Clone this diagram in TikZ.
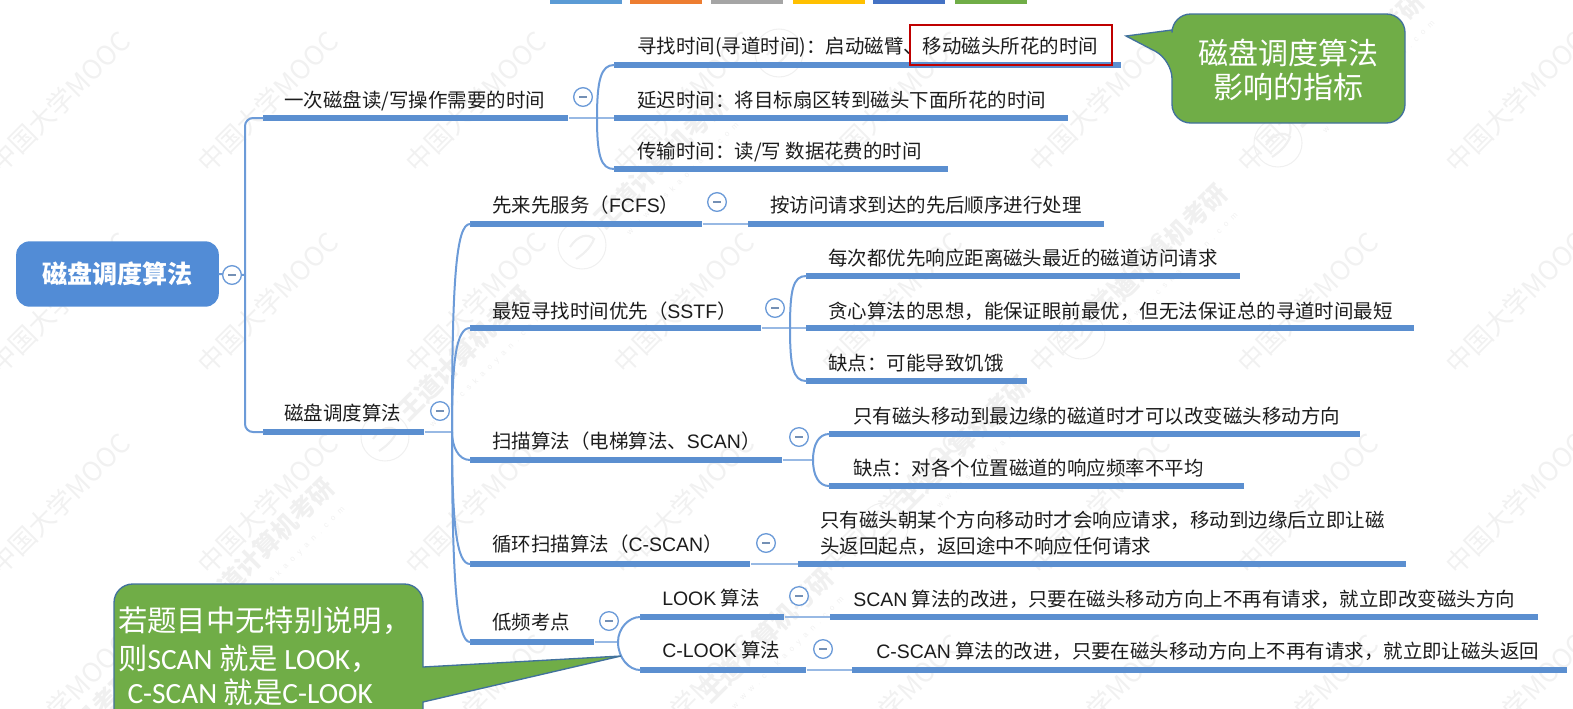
\documentclass[tikz,border=0pt]{standalone}
\usepackage{fontspec}
\setmainfont{Noto Sans CJK SC}
\newfontfamily\latinc{Carlito}
\newfontfamily\latinh{Liberation Sans}
\newfontfamily\wmlatin[LetterSpace=70]{Liberation Sans}
\definecolor{barblue}{HTML}{5B8FD0}
\definecolor{linkblue}{HTML}{6C9BD8}
\definecolor{rootblue}{HTML}{528CD6}
\definecolor{callgreen}{HTML}{70AD47}
\definecolor{callline}{HTML}{41719C}
\definecolor{txt}{HTML}{1C1C1C}
\definecolor{wm}{HTML}{F1F1F1}
\definecolor{wmb}{HTML}{F0F0F0}
\tikzset{
  x=0.75pt,y=-0.75pt,
  barbox/.style={fill=barblue,draw=none,inner sep=0pt,minimum height=4pt,rectangle},
  lab/.style={anchor=west,inner sep=0pt,yshift=-0.7pt,text=txt,font=\fontsize{14.6}{18}\selectfont},
  link/.style={draw=linkblue,line width=1.5pt,line cap=round},
  thin link/.style={draw=linkblue!70,line width=1pt},
  fold/.style={circle,draw=linkblue,line width=1pt,fill=white,minimum size=14pt,inner sep=0pt,
    path picture={\draw[linkblue!60!gray,line width=0.8pt] ([xshift=-3pt]path picture bounding box.center)--([xshift=3pt]path picture bounding box.center);}},
  callout/.style={fill=callgreen,draw=callline,line width=1pt},
  calltext/.style={text=white,inner sep=0pt,font=\fontsize{22.5}{25.5}\selectfont},
  wmtext/.style={text=wm,rotate=45,inner sep=0pt,font=\fontsize{20}{22}\selectfont},
  wmbold/.style={text=wmb,rotate=45,inner sep=0pt,font=\fontsize{19}{21}\selectfont\bfseries},
  wmurl/.style={text=wmb,rotate=45,inner sep=0pt,font=\fontsize{6}{7}\wmlatin}
}
% \barnode{name}{x0}{x1}{y}
\newcommand{\barnode}[4]{\node[barbox,minimum width={(#3-#2)*0.75pt},anchor=west] (#1) at (#2,#4) {};}
\newcommand{\la}[1]{{\latinh #1}}
\begin{document}
\begin{tikzpicture}
\useasboundingbox (0,0) rectangle (1573,708);
\clip (0,0) rectangle (1573,708);
% watermarks
\foreach \x in {60,268,476,684,892,1100,1308,1516}{
  \foreach \y in {102,303,504,705}{
    \node[wmtext,name=w\x\y] at (\x,\y) {中国大学MOOC};
  }
}
\foreach \lx/\ly in {188/629,385/437,582/245,779/53,884/527,1081/335,1278/143,1475/-49}{
  \node[wmbold,name=wb\lx] at (\lx-118,\ly+108) {王道计算机考研};
  \node[wmurl,name=wu\lx] at (\lx-96,\ly+126) {www.cskaoyan.com};
  \draw[wmb,line width=0.8pt] (\lx,\ly) circle (24);
  \draw[wmb,line width=1.6pt] (\lx-12,\ly+2) .. controls (\lx-4,\ly-10) and (\lx+6,\ly-12) .. (\lx+12,\ly-6)
     .. controls (\lx+8,\ly+4) and (\lx,\ly+10) .. (\lx-6,\ly+14);
}
% palette strip
\foreach \a/\c in {550/5B9BD5,630/ED7D31,711/A5A5A5,793/FFC000,873/4472C4,955/70AD47}{
  \definecolor{tmpc}{HTML}{\c}
  \fill[tmpc] (\a,0) rectangle (\a+72,4);
}
% root
\node[fill=rootblue,rounded corners=10pt,minimum width=152pt,minimum height=49pt,inner sep=0pt,
  text=white,font=\fontsize{18.8}{20}\selectfont\bfseries] (root) at (117.5,274) {\raisebox{-1.5pt}{磁盘调度算法}};
% level 1
\barnode{a}{263}{568}{118}
\barnode{b}{263}{424}{432}
\coordinate (tr) at (245,275);
\draw[link] (root.east) -- (tr);
\draw[link,rounded corners=6pt] (tr) -- (245,118) -- (a.west);
\draw[link,rounded corners=6pt] (tr) -- (245,432) -- (b.west);
\node[fold] (f0) at (232,275) {};
\node[lab] (at) at (284,100) {一次磁盘读/写操作需要的时间};
\node[lab] (bt) at (284,412) {磁盘调度算法};
% level 2 A
\barnode{a1}{614}{1121}{65}
\barnode{a2}{614}{1068}{118}
\barnode{a3}{614}{948}{169}
\draw[thin link] (a.east) -- (a2.west);
\coordinate (ja) at (597,118);
\draw[link] (ja) .. controls +(0,-38) and +(-13,0) .. (a1.west);
\draw[link] (ja) .. controls +(0,38) and +(-13,0) .. (a3.west);
\node[fold] (f1) at (583,97) {};
\node[lab] (a1t) at (637,46) {寻找时间(寻道时间)：启动磁臂、移动磁头所花的时间};
\node[lab] (a2t) at (637,99) {延迟时间：将目标扇区转到磁头下面所花的时间};
\node[lab] (a3t) at (637,151) {传输时间：读/写 数据花费的时间};
\node[draw=red!75!black,line width=1.3pt,minimum width=151pt,minimum height=30pt,inner sep=0pt] (redbox) at (1011,45) {};
% level 2 B
\barnode{b1}{470}{702}{224}
\barnode{b2}{470}{761}{328}
\barnode{b3}{470}{782}{460}
\barnode{b4}{470}{750}{564}
\barnode{b5}{470}{594}{642}
\coordinate (jb) at (452,432);
\draw[thin link] (b.east) -- (jb);
\draw[link] (jb) .. controls +(0,-150) and +(-14,0) .. (b1.west);
\draw[link] (jb) .. controls +(0,-70) and +(-14,0) .. (b2.west);
\draw[link] (jb) .. controls +(0,14) and +(-12,0) .. (b3.west);
\draw[link] (jb) .. controls +(0,95) and +(-13,0) .. (b4.west);
\draw[link] (jb) .. controls +(0,150) and +(-13,0) .. (b5.west);
\node[fold] (f2) at (440,411) {};
\node[lab] (b1t) at (492,204) {先来先服务（\la{FCFS}）};
\node[lab] (b2t) at (492,310) {最短寻找时间优先（\la{SSTF}）};
\node[lab] (b3t) at (492,440) {扫描算法（电梯算法、\la{SCAN}）};
\node[lab] (b4t) at (492,543) {循环扫描算法（\la{C-SCAN}）};
\node[lab] (b5t) at (492,621) {低频考点};
% FCFS
\barnode{c1}{748}{1104}{224}
\draw[thin link] (b1.east) -- (c1.west);
\node[fold] (f3) at (717,202) {};
\node[lab] (c1t) at (770,204) {按访问请求到达的先后顺序进行处理};
% SSTF
\barnode{d1}{806}{1240}{276}
\barnode{d2}{806}{1414}{328}
\barnode{d3}{806}{1027}{381}
\coordinate (jd) at (790,328);
\draw[thin link] (b2.east) -- (d2.west);
\draw[link] (jd) .. controls +(0,-38) and +(-13,0) .. (d1.west);
\draw[link] (jd) .. controls +(0,38) and +(-13,0) .. (d3.west);
\node[fold] (f4) at (775,308) {};
\node[lab] (d1t) at (828,257) {每次都优先响应距离磁头最近的磁道访问请求};
\node[lab] (d2t) at (828,310) {贪心算法的思想，能保证眼前最优，但无法保证总的寻道时间最短};
\node[lab] (d3t) at (828,362) {缺点：可能导致饥饿};
% SCAN
\barnode{e1}{829}{1360}{434}
\barnode{e2}{829}{1244}{486}
\coordinate (je) at (813,460);
\draw[thin link] (b3.east) -- (je);
\draw[link] (je) .. controls +(0,-16) and +(-10,0) .. (e1.west);
\draw[link] (je) .. controls +(0,16) and +(-10,0) .. (e2.west);
\node[fold] (f5) at (799,437) {};
\node[lab] (e1t) at (853,415) {只有磁头移动到最边缘的磁道时才可以改变磁头移动方向};
\node[lab] (e2t) at (853,467) {缺点：对各个位置磁道的响应频率不平均};
% C-SCAN
\barnode{g1}{798}{1406}{564}
\draw[thin link] (b4.east) -- (g1.west);
\node[fold] (f6) at (766,543) {};
\node[lab,align=left,font=\fontsize{14.6}{19.6}\selectfont] (g1t) at (820,532) {只有磁头朝某个方向移动时才会响应请求，移动到边缘后立即让磁\\头返回起点，返回途中不响应任何请求};
% low freq
\barnode{h1}{640}{784}{617}
\barnode{h2}{640}{806}{670}
\coordinate (jh) at (618,642);
\draw[thin link] (b5.east) -- (jh);
\draw[link] (jh) .. controls +(0,-14) and +(-11,0) .. (h1.west);
\draw[link] (jh) .. controls +(0,16) and +(-11,0) .. (h2.west);
\node[fold] (f7) at (609,621) {};
\node[lab] (h1t) at (662,597) {\la{LOOK} 算法};
\node[lab] (h2t) at (662,649) {\la{C-LOOK} 算法};
\barnode{i1}{830}{1538}{617}
\barnode{i2}{852}{1567}{670}
\draw[thin link] (h1.east) -- (i1.west);
\draw[thin link] (h2.east) -- (i2.west);
\node[fold] (f8) at (799,596) {};
\node[fold] (f9) at (823,649) {};
\node[lab] (i1t) at (853,598) {\la{SCAN} 算法的改进，只要在磁头移动方向上不再有请求，就立即改变磁头方向};
\node[lab] (i2t) at (876,650) {\la{C-SCAN} 算法的改进，只要在磁头移动方向上不再有请求，就立即让磁头返回};
% callouts
\path[callout,draw] (1126,36) -- (1172,30) [rounded corners=14pt] -- (1172,14) -- (1405,14) -- (1405,123) -- (1172,123) -- (1172,60) [rounded corners=0pt] -- cycle;
\node[calltext,align=center] (ct1) at (1288,70) {磁盘调度算法\\影响的指标};
\path[callout,draw] (621,656) [rounded corners=0pt] -- (423,667) [rounded corners=14pt] -- (423,584) -- (114,584) -- (114,740) -- (423,740) [rounded corners=0pt] -- (423,702) -- cycle;
\node[calltext,anchor=north west,align=left,font=\fontsize{22}{28}\selectfont] (ct2) at (118,607) {若题目中无特别说明，\\则{\latinc SCAN} 就是 {\latinc LOOK}，\\[-2pt]\hspace*{7pt}{\latinc C-SCAN} 就是{\latinc C-LOOK}};
\end{tikzpicture}
\end{document}
